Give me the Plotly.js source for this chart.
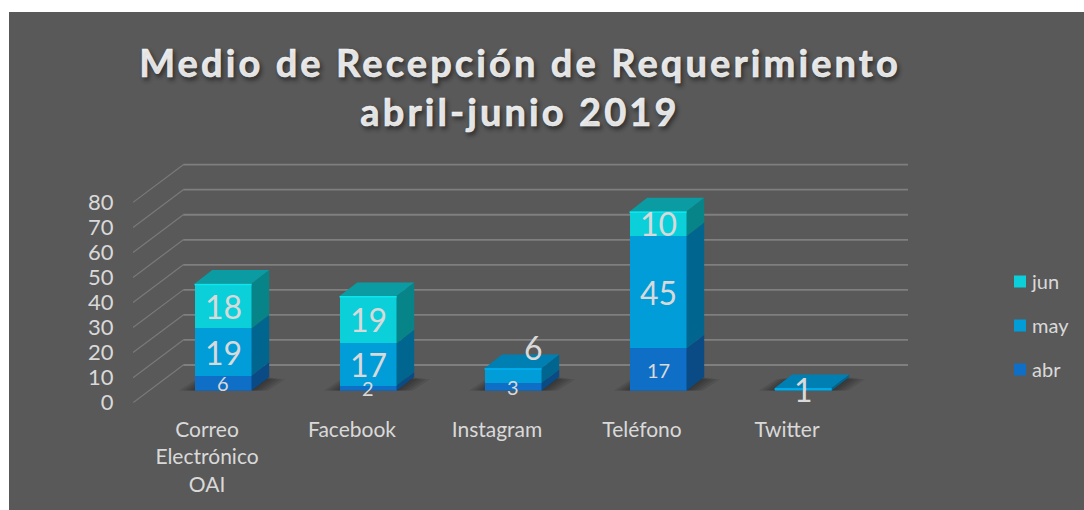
<!DOCTYPE html>
<html>
<head>
<meta charset="utf-8">
<script src="https://cdn.plot.ly/plotly-3.0.1.min.js"></script>
<style>
html,body{margin:0;padding:0;background:#fff}
#chart{width:1084px;height:510px}
.gtitle{letter-spacing:3.1px;stroke:#F2F2F2;stroke-width:0.6px}
</style>
</head>
<body>
<div id="chart"></div>
<script>
// Data
const categories = ["Correo<br>Electrónico<br>OAI", "Facebook", "Instagram", "Teléfono", "Twitter"];
const abr = [6, 2, 3, 17, 0];
const may = [19, 17, 6, 45, 1];
const jun = [18, 19, 0, 10, 0];
const gridVals = [0, 10, 20, 30, 40, 50, 60, 70, 80];

// Styles
const W = 1084, H = 510;
const colFront = {abr:"#0F6FC6", may:"#009DD9", jun:"#0BD0D9"};
const colSide  = {abr:"#0A4B85", may:"#006690", jun:"#068488"};
const colTop   = {abr:"#0B5BA5", may:"#0080B2", jun:"#0A9BA3"};
const colEdge  = {abr:"#1483E0", may:"#00B2F0", jun:"#0BE6EE"};
const textCol = "#D9D9D9", FONT = "Lato, 'Open Sans', sans-serif";

// Geometry in pixels of the pseudo-3D projection
const pxPerCat = 145, frontX0 = 207, axisL = 133, axisR = 908;
const zeroY = 402.7, pxPerUnit = 2.504, axisTopVal = 100;
const barZeroY = 390.7, barPxPerUnit = 2.49, barShift = 16;
const barDx = 17.7 / pxPerCat, barDy = 13.7 / barPxPerUnit;
const wallDx = 50.3 / pxPerCat, wallDy = 37.7 / pxPerUnit;
const xMin = (axisL - frontX0) / pxPerCat, xMax = (axisR - frontX0) / pxPerCat;
const barW = 57 / pxPerCat;
const idx = categories.map((_, i) => i);

const series = [["abr", abr], ["may", may], ["jun", jun]];

// cumulative bases
const bases = {};
let run = idx.map(() => 0);
series.forEach(([n, v]) => { bases[n] = run.slice(); run = run.map((b, i) => b + v[i]); });
const totals = run;

const traces = [];
// carrier for the visible axes
traces.push({x: idx, y: idx.map(() => 0), type:"scatter", mode:"lines", line:{color:"rgba(0,0,0,0)"},
  hoverinfo:"skip", showlegend:false, xaxis:"x", yaxis:"y"});

// front faces
series.forEach(([n, v], k) => {
  traces.push({type:"bar", name:n, x: idx, y: v, xaxis:"x2", yaxis:"y2",
    marker:{color: colFront[n], line:{width:0}}, legendgroup:n, legendrank: series.length - k});
});

function poly(name, pts, color) {
  const x = [], y = [];
  pts.forEach(p => { p.forEach(q => { x.push(q[0]); y.push(q[1]); }); x.push(null); y.push(null); });
  traces.push({type:"scatter", mode:"lines", x, y, fill:"toself", fillcolor:color, line:{width:0, color:color},
    hoverinfo:"skip", showlegend:false, xaxis:"x2", yaxis:"y2", name});
}
// side and top faces
series.forEach(([n, v]) => {
  const side = [], top = [], edgeX = [], edgeY = [];
  idx.forEach(i => {
    if (!v[i]) return;
    const b = bases[n][i], t = b + v[i], l = i - barW / 2, r = i + barW / 2;
    side.push([[r,b],[r+barDx,b+barDy],[r+barDx,t+barDy],[r,t],[r,b]]);
    if (t === totals[i]) {
      top.push([[l,t],[l+barDx,t+barDy],[r+barDx,t+barDy],[r,t],[l,t]]);
      edgeX.push(l, r, null); edgeY.push(t - 0.3, t - 0.3, null);
    }
  });
  poly(n + " lateral", side, colSide[n]);
  poly(n + " superior", top, colTop[n]);
  traces.push({type:"scatter", mode:"lines", x:edgeX, y:edgeY, line:{color:colEdge[n], width:1.5},
    hoverinfo:"skip", showlegend:false, xaxis:"x2", yaxis:"y2"});
});

// shapes: panel, grid on floor / back wall, bar shadows
const shapes = [{type:"rect", xref:"paper", yref:"paper", x0:9/W, x1:1, y0:0, y1:1-12/H,
  fillcolor:"#595959", line:{width:0}, layer:"below"}];
gridVals.forEach(v => {
  const bx = xMin + wallDx, by = v + wallDy;
  shapes.push({type:"line", xref:"x", yref:"y", x0:xMin, y0:v, x1:bx, y1:by, layer:"below",
    line:{color:"#7A7A7A", width:1.2}});
  shapes.push({type:"line", xref:"x", yref:"y", x0:bx, y0:by, x1:xMax, y1:by, layer:"below",
    line:{color:"#7F7F7F", width:1.8}});
});
// soft shadow: several faint layers, each reaching a little further out
const shadowSpread = [0.11, 0.085, 0.06, 0.035, 0.01];
idx.forEach(i => {
  shadowSpread.forEach(e => {
    const l = i - barW/2, r = i + barW/2 + barDx;
    const topY = barDy * (1 - e * 1.5);
    shapes.push({type:"path", xref:"x2", yref:"y2", layer:"below", line:{width:0},
      fillcolor:"rgba(0,0,0,0.09)",
      path:`M${l-e},0 L${l+barDx-e},${topY} L${r+e},${topY} L${r+e-barDx},0 Z`});
  });
});

// data labels
const annotations = [];
const smallSize = 20, bigSize = 32;
series.forEach(([n, v]) => {
  idx.forEach(i => {
    if (!v[i]) return;
    const small = n === "abr";
    const a = {xref:"x2", yref:"y2", x:i, y:bases[n][i] + v[i]/2, text:String(v[i]), showarrow:false,
      xanchor:"center", yanchor:"middle", font:{family:FONT, size: small ? smallSize : bigSize, color:textCol}};
    if (n === "may" && categories[i] === "Instagram") { a.xshift = 20; a.yshift = 28; }
    annotations.push(a);
  });
});

const layout = {
  width: W, height: H,
  margin:{l:0, r:0, t:0, b:0, pad:0},
  paper_bgcolor:"#FFFFFF", plot_bgcolor:"rgba(0,0,0,0)",
  font:{family:FONT, color:textCol},
  barmode:"stack", bargap: 1 - barW,
  title:{text:"Medio de Recepción de Requerimiento<br>abril-junio 2019",
    x:520/W, xanchor:"center", xref:"paper", y:1-77/H, yanchor:"top", yref:"container",
    font:{family:FONT, size:38, weight:700, color:"#F2F2F2", shadow:"2px 3px 4px rgba(0,0,0,0.45)"}},
  xaxis:{domain:[axisL/W, axisR/W], range:[xMin, xMax], anchor:"y", tickmode:"array", tickvals:idx, ticktext:categories,
    showgrid:false, zeroline:false, showline:false, ticks:"outside", ticklen:8, tickcolor:"rgba(0,0,0,0)",
    tickfont:{family:FONT, size:21, color:textCol}, fixedrange:true},
  yaxis:{domain:[1-zeroY/H, 1-(zeroY-pxPerUnit*axisTopVal)/H], range:[0, axisTopVal], anchor:"x", tickmode:"array", tickvals:gridVals,
    showgrid:false, zeroline:false, showline:false, ticks:"outside", ticklen:14, tickcolor:"rgba(0,0,0,0)",
    tickfont:{family:FONT, size:22, color:textCol}, fixedrange:true},
  xaxis2:{domain:[(axisL+barShift)/W, (axisR+barShift)/W], range:[xMin, xMax], anchor:"y2", visible:false, fixedrange:true},
  yaxis2:{domain:[1-barZeroY/H, 1-(barZeroY-barPxPerUnit*axisTopVal)/H], range:[0, axisTopVal], anchor:"x2", visible:false, fixedrange:true},
  legend:{x:1000/W, xanchor:"left", y:1-262/H, yanchor:"top", traceorder:"grouped", tracegroupgap:15,
    bgcolor:"rgba(0,0,0,0)", font:{family:FONT, size:20, color:textCol}},
  shapes, annotations, showlegend:true
};

function nudgeLegendText() {
  document.querySelectorAll(".legendtext").forEach(t => {
    if (!t.dataset.nudged) { t.setAttribute("x", +t.getAttribute("x") - 8); t.dataset.nudged = "1"; }
  });
}
Plotly.newPlot("chart", traces, layout, {displayModeBar:false}).then(nudgeLegendText);
</script>
</body>
</html>
